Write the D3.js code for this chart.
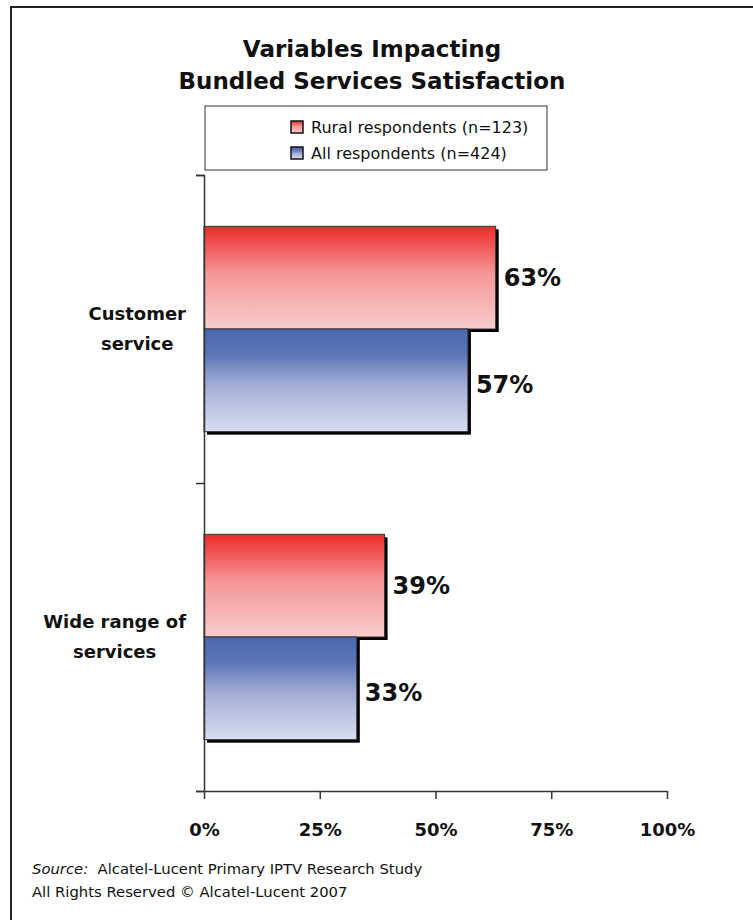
<!DOCTYPE html>
<html lang="en">
<head>
    <meta charset="UTF-8">
    <title>Variables Impacting Bundled Services Satisfaction</title>
    <script src="https://d3js.org/d3.v7.min.js"></script>
    <style>
        body { margin: 0; background: #fff; }
        text { font-family: "DejaVu Sans", sans-serif; fill: #111; }
    </style>
</head>
<body>
    <svg width="753" height="920"></svg>
    <script>
        // data
        const categories = ['Customer service', 'Wide range of services'];
        const categoryLines = [['Customer', 'service'], ['Wide range of', 'services']];
        const seriesNames = ['Rural respondents (n=123)', 'All respondents (n=424)'];
        const rural = [0.63, 0.39];
        const all = [0.57, 0.33];
        const tickValues = [0, 0.25, 0.5, 0.75, 1];

        const svg = d3.select('svg');

        // outer frame (runs off the right and bottom edges)
        svg.append('rect')
            .attr('x', 11).attr('y', 7)
            .attr('width', 760).attr('height', 940)
            .attr('fill', 'none').attr('stroke', '#222').attr('stroke-width', 2);

        // gradients
        const defs = svg.append('defs');
        const redGrad = defs.append('linearGradient').attr('id', 'gRed')
            .attr('x1', 0).attr('y1', 0).attr('x2', 0).attr('y2', 1);
        redGrad.append('stop').attr('offset', '0%').attr('stop-color', '#ee2a2a');
        redGrad.append('stop').attr('offset', '45%').attr('stop-color', '#f49596');
        redGrad.append('stop').attr('offset', '100%').attr('stop-color', '#f9cdcd');
        const blueGrad = defs.append('linearGradient').attr('id', 'gBlue')
            .attr('x1', 0).attr('y1', 0).attr('x2', 0).attr('y2', 1);
        blueGrad.append('stop').attr('offset', '0%').attr('stop-color', '#4a67b0');
        blueGrad.append('stop').attr('offset', '25%').attr('stop-color', '#5d76b8');
        blueGrad.append('stop').attr('offset', '55%').attr('stop-color', '#a4aed6');
        blueGrad.append('stop').attr('offset', '100%').attr('stop-color', '#d6deef');
        const fills = ['url(#gRed)', 'url(#gBlue)'];

        // title
        svg.append('text').attr('x', 372).attr('y', 57)
            .attr('text-anchor', 'middle').attr('font-size', 23).attr('font-weight', 'bold')
            .text('Variables Impacting');
        svg.append('text').attr('x', 372).attr('y', 89)
            .attr('text-anchor', 'middle').attr('font-size', 23).attr('font-weight', 'bold')
            .text('Bundled Services Satisfaction');

        // scales
        const x = d3.scaleLinear().domain([0, 1]).range([204, 667]);
        const y = d3.scaleBand().domain(categories).range([175, 791]).padding(0);
        const ySub = d3.scaleBand().domain([0, 1]).range([0, y.bandwidth()])
            .paddingInner(0).paddingOuter(0.5);

        const rows = categories.map((c, i) => ({ cat: c, lines: categoryLines[i], vals: [rural[i], all[i]] }));

        // bars
        const groups = svg.selectAll('g.cat').data(rows).join('g')
            .attr('class', 'cat')
            .attr('transform', d => `translate(0,${y(d.cat)})`);

        groups.each(function (d) {
            const g = d3.select(this);
            const bars = d.vals.map((v, s) => ({ v, s }));
            // shadow
            g.selectAll('rect.shadow').data(bars).join('rect')
                .attr('class', 'shadow')
                .attr('x', x(0) + 3).attr('y', b => ySub(b.s) + 3)
                .attr('width', b => x(b.v) - x(0)).attr('height', ySub.bandwidth())
                .attr('fill', '#000');
            g.selectAll('rect.bar').data(bars).join('rect')
                .attr('class', 'bar')
                .attr('x', x(0)).attr('y', b => ySub(b.s))
                .attr('width', b => x(b.v) - x(0)).attr('height', ySub.bandwidth())
                .attr('fill', b => fills[b.s])
                .attr('stroke', '#333').attr('stroke-width', 1);
            g.selectAll('text.val').data(bars).join('text')
                .attr('class', 'val')
                .attr('x', b => x(b.v) + 8)
                .attr('y', b => ySub(b.s) + ySub.bandwidth() / 2 + (b.s === 0 ? 0 : 4))
                .attr('dy', '0.36em')
                .attr('font-size', 24).attr('font-weight', 'bold')
                .text(b => Math.round(b.v * 100) + '%');
            // category label: lines centred on each other, block right-aligned near the axis
            const lbl = g.append('text')
                .attr('text-anchor', 'middle').attr('font-size', 18).attr('font-weight', 'bold');
            const spans = d.lines.map((ln, k) => lbl.append('tspan')
                .attr('y', y.bandwidth() / 2 + (k - 0.5) * 30)
                .attr('dy', '0.36em').text(ln));
            const maxW = d3.max(spans, s => s.node().getComputedTextLength());
            spans.forEach(s => s.attr('x', 186 - maxW / 2));
        });

        // axes
        const yAxis = d3.axisLeft(d3.scaleLinear().domain([0, 2]).range([175, 791]))
            .tickValues([0, 1, 2]).tickSize(8).tickFormat('');
        const gy = svg.append('g').attr('transform', 'translate(204,0)').call(yAxis);
        gy.selectAll('path, line').attr('stroke', '#333').attr('stroke-width', 1.5);

        const xAxis = d3.axisBottom(x).tickValues(tickValues).tickSize(8)
            .tickSizeOuter(0).tickPadding(24).tickFormat(d3.format('.0%'));
        const gx = svg.append('g').attr('transform', 'translate(0,791)').call(xAxis);
        gx.selectAll('path, line').attr('stroke', '#333').attr('stroke-width', 1.5);
        gx.selectAll('text').attr('font-size', 18).attr('font-weight', 'bold')
            .style('font-family', '"DejaVu Sans", sans-serif').attr('fill', '#111');

        // legend
        svg.append('rect').attr('x', 205).attr('y', 106).attr('width', 342).attr('height', 64)
            .attr('fill', '#fff').attr('stroke', '#333').attr('stroke-width', 1);
        const leg = svg.selectAll('g.leg').data(seriesNames).join('g')
            .attr('class', 'leg')
            .attr('transform', (d, i) => `translate(291,${127 + i * 26})`);
        leg.append('rect').attr('x', 0).attr('y', -6).attr('width', 12).attr('height', 12)
            .attr('fill', (d, i) => fills[i]).attr('stroke', '#111').attr('stroke-width', 1.5);
        leg.append('text').attr('x', 20).attr('dy', '0.36em').attr('font-size', 16).text(d => d);

        // source
        const src = svg.append('text').attr('x', 32).attr('y', 874).attr('font-size', 14.8);
        src.append('tspan').attr('font-style', 'italic').text('Source:');
        src.append('tspan').text('\u00a0 Alcatel-Lucent Primary IPTV Research Study');
        svg.append('text').attr('x', 32).attr('y', 897).attr('font-size', 14.8)
            .text('All Rights Reserved \u00a9 Alcatel-Lucent 2007');
    </script>
</body>
</html>
